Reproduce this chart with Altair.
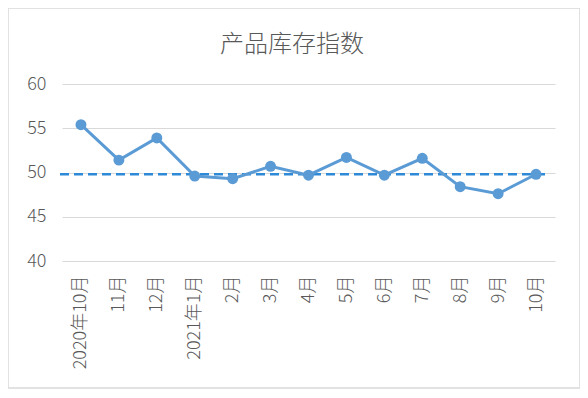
import altair as alt
import pandas as pd

months = ["2020年10月", "11月", "12月", "2021年1月", "2月", "3月", "4月",
          "5月", "6月", "7月", "8月", "9月", "10月"]
values = [55.4, 51.4, 53.9, 49.6, 49.3, 50.7, 49.7, 51.7, 49.7, 51.6, 48.4, 47.6, 49.8]
ref_level = [49.8]
title_text = ["产品库存指数"]

df = pd.DataFrame({"month": months, "value": values})
ref = pd.DataFrame({"level": ref_level})
tdf = pd.DataFrame({"t": title_text})

W, H = 493, 177
FONT = "Noto Sans CJK SC"
GREY = "#595959"

x_enc = alt.X("month:N", sort=None, title=None,
              axis=alt.Axis(labelAngle=-90, labelFontSize=18, labelColor=GREY,
                            labelFont=FONT, labelFontWeight=300, ticks=False,
                            domain=False, labelPadding=14, grid=False))
y_enc = alt.Y("value:Q", title=None,
              scale=alt.Scale(domain=[40, 60], nice=False, zero=False),
              axis=alt.Axis(values=[40, 45, 50, 55, 60], labelFontSize=18,
                            labelColor=GREY, labelFont=FONT, labelFontWeight=300,
                            ticks=False, domain=False, labelPadding=16,
                            gridColor="#d9d9d9", gridWidth=1))

line = alt.Chart(df).mark_line(
    color="#5b9bd5", strokeWidth=3,
    point=alt.OverlayMarkDef(filled=True, size=120, color="#5b9bd5", opacity=1)
).encode(x=x_enc, y=y_enc)

rule = alt.Chart(ref).mark_rule(
    color="#2e8ad6", strokeWidth=2.5, strokeDash=[9, 5]
).encode(y=alt.Y("level:Q"), x=alt.value(-2), x2=alt.value(483))

border = alt.Chart(ref).mark_rect(
    fill=None, stroke="#d9d9d9", strokeWidth=1.5
).encode(x=alt.value(-54), x2=alt.value(518), y=alt.value(-76), y2=alt.value(304))

title = alt.Chart(tdf).mark_text(
    font=FONT, fontSize=24, fontWeight=300, color=GREY, baseline="middle", align="center"
).encode(text="t:N", x=alt.value(230), y=alt.value(-39))

chart = alt.layer(rule, line, border, title).properties(
    width=W, height=H,
    autosize=alt.AutoSizeParams(type="none"),
    padding={"left": 54, "top": 76, "right": 25, "bottom": 129},
).configure(background="white").configure_view(stroke="transparent", strokeWidth=0)

chart.save("out.html", embed_options={"renderer": "svg", "actions": False})
